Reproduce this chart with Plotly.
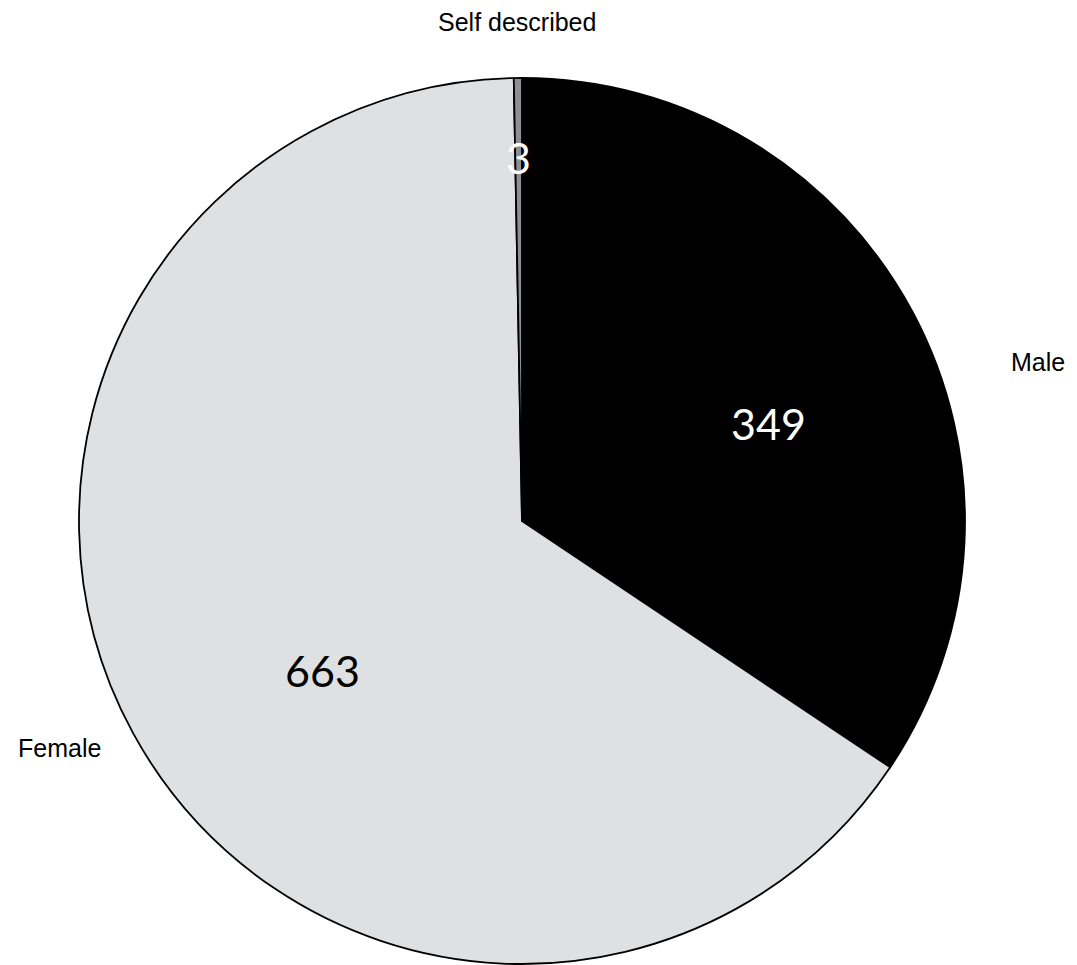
import plotly.graph_objects as go

categories = ["Male", "Female", "Self described"]
counts = [349, 663, 3]
slice_colors = ["#000000", "#DFE0E2", "#8E8F91"]
value_text_colors = ["#FFFFFF", "#000000", "#FFFFFF"]

W, H = 1077, 965
cx, cy, r = 522, 521, 443

fig = go.Figure(go.Pie(
    labels=categories,
    values=counts,
    textinfo="none",
    sort=False,
    direction="clockwise",
    rotation=0,
    marker=dict(colors=slice_colors, line=dict(color="#000000", width=1.8)),
    showlegend=False,
    hoverinfo="label+value",
    domain=dict(x=[(cx - r) / W, (cx + r) / W], y=[(H - cy - r) / H, (H - cy + r) / H]),
))

# category name positions (pixels) outside the pie
label_pos = {"Self described": (517, 22), "Male": (1038, 362), "Female": (59, 748)}
# value text positions (pixels) inside slices
value_pos = {"Male": (768, 424), "Female": (322, 670), "Self described": (518, 157)}

for name, cnt, tc in zip(categories, counts, value_text_colors):
    px, py = label_pos[name]
    fig.add_annotation(x=px / W, y=1 - py / H, xref="paper", yref="paper",
                       text=name, showarrow=False,
                       font=dict(family="Liberation Sans", size=25, color="#000000"),
                       xanchor="center", yanchor="middle")
    vx, vy = value_pos[name]
    fig.add_annotation(x=vx / W, y=1 - vy / H, xref="paper", yref="paper",
                       text=str(cnt), showarrow=False,
                       font=dict(family="Lato", size=43, color=tc),
                       xanchor="center", yanchor="middle")

fig.update_layout(
    width=W, height=H,
    margin=dict(l=0, r=0, t=0, b=0),
    paper_bgcolor="#FFFFFF", plot_bgcolor="#FFFFFF",
)

fig.write_html("out.html", config={"displayModeBar": False},
               post_script="document.body.style.margin='0';")
